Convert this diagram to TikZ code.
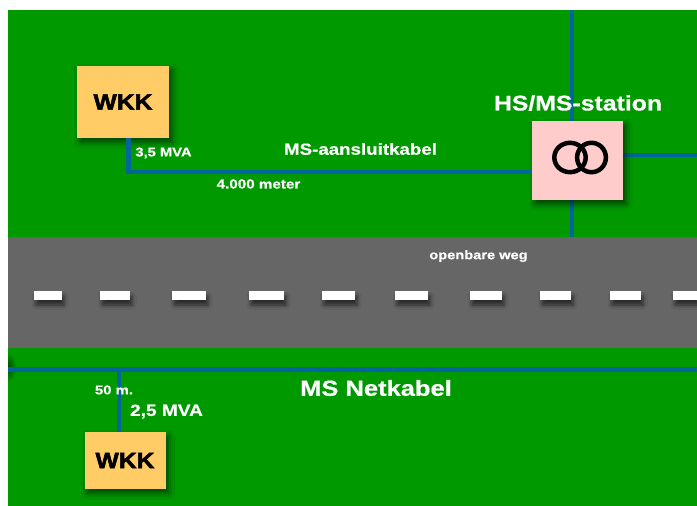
\documentclass[tikz,border=0pt]{standalone}
\usepackage{fontspec}
\setmainfont{Liberation Sans}
\newfontfamily\wkkfont[UprightFont=* Bold,FakeBold=2.4,FakeStretch=1.12]{Liberation Sans}
\newfontfamily\labfont[UprightFont=* Bold,FakeBold=0.6,FakeStretch=1.17]{Liberation Sans}
\usetikzlibrary{shadows.blur,positioning}
\definecolor{VeldGreen}{HTML}{009900}
\definecolor{WegGrey}{HTML}{666666}
\definecolor{KabelBlue}{HTML}{006699}
\definecolor{WkkOrange}{HTML}{FFCC66}
\definecolor{StatPink}{HTML}{FFCCCC}
\begin{document}
\begin{tikzpicture}[x=1pt,y=-1pt,font=\labfont,
  kabel/.style={draw=KabelBlue,line width=4.5pt},
  blok/.style={inner sep=0pt,blur shadow={shadow xshift=3pt,shadow yshift=-4pt,shadow blur radius=6pt,shadow opacity=60}},
  wkk/.style={blok,fill=WkkOrange,font=\wkkfont\fontsize{22}{24}\selectfont},
  streep/.style={fill=white,inner sep=0pt,minimum height=9pt,blur shadow={shadow xshift=2pt,shadow yshift=-5pt,shadow blur radius=4pt,shadow opacity=60}},
  lab/.style={text=white,inner sep=0pt}]
  \useasboundingbox (0,0) rectangle (697,506);
  \fill[white] (0,0) rectangle (697,506);
  \fill[VeldGreen] (8,10) rectangle (697,506);
  \fill[WegGrey] (8,237) rectangle (697,348);
  % schaduw links van de netkabel
  \begin{scope}
    \clip (8,350) rectangle (20,385);
    \shade[inner color=black!50!VeldGreen,outer color=VeldGreen] (8,367) ellipse (8pt and 15pt);
  \end{scope}
  % wegstrepen
  \foreach \xa/\xb in {34/62,100/130,172/206,249/284,322/355,395/428,470/502,540/571,610/641,673/697}{
    \node[streep,minimum width=\xb pt-\xa pt] (s\xa) at ({(\xa+\xb)/2},295.5) {};}
  % knooppunten
  \coordinate (top) at (572,10);
  \coordinate (weg) at (572,237);
  \coordinate (oost) at (697,155);
  \coordinate (hoek) at (128.3,172);
  \coordinate (netw) at (8,369.5);
  \coordinate (neto) at (697,369.5);
  \coordinate (aftak) at (119,369.5);
  \draw[kabel] (top) -- (weg);
  \draw[kabel] (572,155) -- (oost);
  \draw[kabel] (netw) -- (neto);
  \node[wkk,minimum width=92pt,minimum height=72pt] (wkka) at (123,102) {WKK};
  \node[wkk,minimum width=81pt,minimum height=57pt] (wkkb) at (125,460.5) {WKK};
  \node[blok,fill=StatPink,minimum width=91pt,minimum height=79pt] (stat) at (577.5,160.5) {};
  \draw[kabel] (wkka.south -| hoek) -- (hoek) -- (stat.west |- hoek);
  \draw[kabel] (aftak) -- (wkkb.north -| aftak);
  % transformator
  \draw[black,line width=4.5pt] (570,157.5) ellipse (15.7pt and 14.7pt);
  \draw[black,line width=4.5pt] (591.5,157.5) ellipse (14.4pt and 14.7pt);
  % teksten
  \node[lab,font=\labfont\fontsize{21.2}{23}\selectfont] (tstat) at (578,103) {HS/MS-station};
  \node[lab,font=\labfont\fontsize{16}{18}\selectfont] (taans) at (360.5,149) {MS-aansluitkabel};
  \node[lab,font=\labfont\fontsize{12.6}{14}\selectfont] (tmva) at (163.5,153) {3,5 MVA};
  \node[lab,font=\labfont\fontsize{13}{15}\selectfont] (tmeter) at (258.5,184) {4.000 meter};
  \node[lab,font=\labfont\fontsize{12.5}{14}\selectfont] (tweg) at (478.5,256) {openbare weg};
  \node[lab,font=\labfont\fontsize{21.8}{24}\selectfont] (tnet) at (376,388) {MS Netkabel};
  \node[lab,font=\labfont\fontsize{12.7}{14}\selectfont] (t50) at (114,390) {50 m.};
  \node[lab,font=\labfont\fontsize{16.3}{18}\selectfont] (tmvb) at (166.5,411.5) {2,5 MVA};
\end{tikzpicture}
\end{document}
